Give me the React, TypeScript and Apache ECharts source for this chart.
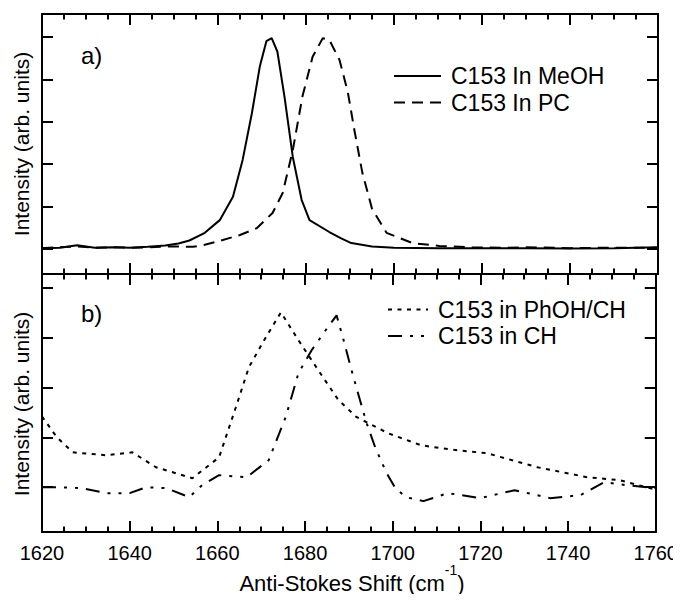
import React, { useEffect, useRef } from "react";
import * as echarts from "echarts";

// ---------- data ----------
const xTicks = [1620, 1640, 1660, 1680, 1700, 1720, 1740, 1760];

const meohX = [1620, 1624, 1628, 1632, 1636, 1640, 1644, 1648, 1651, 1653.5, 1657, 1660.4, 1663.4, 1665.6, 1667.7, 1669.5, 1671, 1672.2, 1673.5, 1675.1, 1677, 1679, 1680.8, 1685.3, 1688, 1690.3, 1695, 1700, 1710, 1720, 1730, 1740, 1750, 1760];
const meohY = [0.02, 0.03, 0.09, 0.03, 0.04, 0.03, 0.05, 0.08, 0.13, 0.2, 0.38, 0.68, 1.23, 2.1, 3.2, 4.3, 4.9, 4.97, 4.65, 3.6, 2.17, 1.16, 0.68, 0.4, 0.25, 0.14, 0.06, 0.03, 0.02, 0.02, 0.02, 0.01, 0.02, 0.04];

const pcX = [1620, 1624, 1628, 1632, 1636, 1640, 1644, 1648, 1651, 1654.3, 1657, 1659.7, 1665, 1668.8, 1672.4, 1674.7, 1677, 1679.2, 1681.5, 1683.8, 1685.3, 1687.6, 1689.5, 1691, 1692.8, 1695, 1698.3, 1704.2, 1710.3, 1717.8, 1725, 1730, 1740, 1750, 1760];
const pcY = [0.02, 0.04, 0.06, 0.03, 0.04, 0.03, 0.04, 0.06, 0.06, 0.05, 0.1, 0.17, 0.33, 0.49, 0.85, 1.32, 2.33, 3.6, 4.53, 4.97, 4.93, 4.46, 3.7, 2.8, 1.8, 0.95, 0.38, 0.14, 0.07, 0.04, 0.03, 0.04, 0.02, 0.03, 0.03];

const phohX = [1620, 1623.4, 1627, 1634.7, 1640.6, 1646, 1654.3, 1660.4, 1664.2, 1667.2, 1671, 1674.5, 1678.5, 1683, 1687.6, 1691.7, 1699, 1706.5, 1714, 1721.6, 1733, 1744.3, 1751.8, 1760];
const phohY = [2.42, 2.0, 1.7, 1.64, 1.7, 1.4, 1.18, 1.6, 2.6, 3.41, 4.0, 4.51, 3.95, 3.35, 2.75, 2.41, 2.08, 1.84, 1.75, 1.68, 1.4, 1.2, 1.14, 0.95];

const chX = [1620, 1624, 1629, 1634.7, 1640, 1643.8, 1648.4, 1653.6, 1656.5, 1660.4, 1666.7, 1671.7, 1675.6, 1678.5, 1681.5, 1684.7, 1687.2, 1688.8, 1690.6, 1692.2, 1694, 1696, 1698.5, 1700.6, 1703, 1707, 1712.6, 1720, 1727.8, 1735.9, 1742.8, 1748.2, 1753.4, 1760];
const chY = [1.0, 1.0, 0.98, 0.88, 0.88, 1.0, 0.98, 0.8, 1.04, 1.24, 1.2, 1.54, 2.41, 3.29, 3.75, 4.15, 4.45, 3.95, 3.35, 2.85, 2.3, 1.8, 1.3, 0.98, 0.8, 0.72, 0.88, 0.78, 0.94, 0.78, 0.84, 1.1, 1.04, 0.98];

const NAME_MEOH = "C153 In MeOH";
const NAME_PC = "C153 In PC";
const NAME_PHOH = "C153 in PhOH/CH";
const NAME_CH = "C153 in CH";

const FONT = "Liberation Sans, Arial, Helvetica, sans-serif";

const pairs = (xs: number[], ys: number[]) => xs.map((x, i) => [x, ys[i]]);

const lineAxis = { color: "#000", width: 2 };

const xAxisDef = (gridIndex: number, position: string, showLabel: boolean) => ({
  type: "value",
  gridIndex,
  position,
  min: xTicks[0],
  max: xTicks[xTicks.length - 1],
  interval: 20,
  axisLine: { show: true, onZero: false, lineStyle: lineAxis },
  axisTick: { show: true, inside: true, length: 11, lineStyle: lineAxis },
  minorTick: { show: true, splitNumber: 4, length: 5.5, lineStyle: lineAxis },
  splitLine: { show: false },
  minorSplitLine: { show: false },
  axisLabel: {
    show: showLabel,
    fontSize: 20,
    fontFamily: FONT,
    color: "#000",
    margin: 11,
    formatter: (v: number) => String(v),
  },
});

const yAxisDef = (gridIndex: number, position: string, min: number, max: number, splitNumber: number) => ({
  type: "value",
  gridIndex,
  position,
  min,
  max,
  splitNumber,
  axisLine: { show: true, onZero: false, lineStyle: lineAxis },
  axisTick: { show: true, inside: true, length: 11, lineStyle: lineAxis },
  splitLine: { show: false },
  axisLabel: { show: false },
});

const seriesDef = (name: string, xs: number[], ys: number[], idx: number, dash: any) => ({
  type: "line",
  name,
  xAxisIndex: idx,
  yAxisIndex: idx,
  data: pairs(xs, ys),
  showSymbol: false,
  symbol: "none",
  smooth: false,
  lineStyle: { color: "#000", width: 2, type: dash },
  itemStyle: { color: "#000" },
});

const legendDef = (names: string[], left: number, top: number, itemWidth: number) => ({
  data: names,
  orient: "vertical",
  left,
  top,
  itemWidth,
  itemHeight: 14,
  itemGap: 3.5,
  selectedMode: false,
  padding: 0,
  itemStyle: { opacity: 0 },
  textStyle: {
    fontSize: 23,
    lineHeight: 23,
    fontFamily: FONT,
    color: "#000",
    padding: [0, 0, 0, 5],
  },
});

export default function App() {
  const ref = useRef<HTMLDivElement>(null);

  useEffect(() => {
    if (!ref.current) return;
    const chart = echarts.init(ref.current, null, { renderer: "svg" });
    const option: any = {
      animation: false,
      backgroundColor: "#fff",
      grid: [
        { left: 42, right: 23, top: 14, height: 260 },
        { left: 42, right: 23, top: 274, height: 258 },
      ],
      xAxis: [
        xAxisDef(0, "bottom", false),
        xAxisDef(0, "top", false),
        xAxisDef(1, "bottom", true),
        xAxisDef(1, "top", false),
      ],
      yAxis: [
        yAxisDef(0, "left", -0.59, 5.54, 6),
        yAxisDef(0, "right", -0.59, 5.54, 6),
        yAxisDef(1, "left", 0.1, 5.28, 5),
        yAxisDef(1, "right", 0.1, 5.28, 5),
      ],
      legend: [
        legendDef([NAME_MEOH, NAME_PC], 393, 64.5, 47),
        legendDef([NAME_PHOH, NAME_CH], 387, 298, 40),
      ],
      series: [
        seriesDef(NAME_MEOH, meohX, meohY, 0, "solid"),
        seriesDef(NAME_PC, pcX, pcY, 0, [11, 7]),
        seriesDef(NAME_PHOH, phohX, phohY, 2, [4, 5.5]),
        seriesDef(NAME_CH, chX, chY, 2, [14, 8, 3, 8, 3, 8]),
      ],
      graphic: [
        {
          type: "text",
          x: 81,
          y: 55.7,
          style: { text: "a)", fontSize: 24, fontFamily: FONT, fill: "#000", verticalAlign: "middle", align: "left" },
        },
        {
          type: "text",
          x: 81,
          y: 313.7,
          style: { text: "b)", fontSize: 24, fontFamily: FONT, fill: "#000", verticalAlign: "middle", align: "left" },
        },
        {
          type: "text",
          x: 21,
          y: 144,
          rotation: Math.PI / 2,
          style: { text: "Intensity (arb. units)", fontSize: 21, fontFamily: FONT, fill: "#000", verticalAlign: "middle", align: "center" },
        },
        {
          type: "text",
          x: 21,
          y: 404,
          rotation: Math.PI / 2,
          style: { text: "Intensity (arb. units)", fontSize: 21, fontFamily: FONT, fill: "#000", verticalAlign: "middle", align: "center" },
        },
        {
          type: "text",
          x: 352,
          y: 583,
          style: {
            text: "Anti-Stokes Shift (cm{sup|-1})",
            fontSize: 22,
            lineHeight: 40,
            fontFamily: FONT,
            fill: "#000",
            verticalAlign: "middle",
            align: "center",
            rich: {
              sup: { fontSize: 14, lineHeight: 14, verticalAlign: "top", fontFamily: FONT, fill: "#000" },
            },
          },
        },
      ],
    };
    chart.setOption(option);
    return () => chart.dispose();
  }, []);

  return <div ref={ref} style={{ width: 681, height: 602, margin: -8 }} />;
}
